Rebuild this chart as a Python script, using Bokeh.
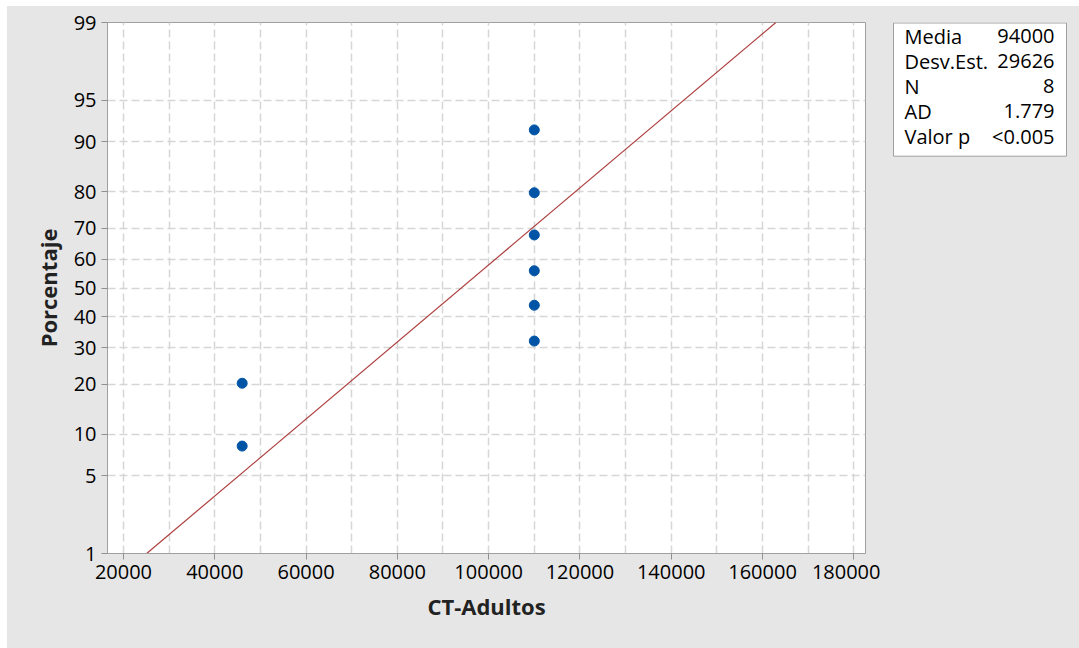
from statistics import NormalDist
from bokeh.plotting import figure
from bokeh.layouts import row
from bokeh.models import Range1d, FixedTicker, NumeralTickFormatter, ColumnDataSource
from bokeh.core.properties import value
from bokeh.embed import file_html
from bokeh.resources import INLINE

# ---- data ----
ct_adultos = [46000, 46000, 110000, 110000, 110000, 110000, 110000, 110000]
porcentaje = [8.3, 20.2, 32.1, 44.0, 56.0, 67.9, 79.8, 91.7]
media = 94000
desv_est = 29626
y_tick_pct = [1, 5, 10, 20, 30, 40, 50, 60, 70, 80, 90, 95, 99]
x_ticks = [20000, 40000, 60000, 80000, 100000, 120000, 140000, 160000, 180000]
x_grid = [20000, 30000, 40000, 50000, 60000, 70000, 80000, 90000, 100000,
          110000, 120000, 130000, 140000, 150000, 160000, 170000, 180000]
stat_names = ["Media", "Desv.Est.", "N", "AD", "Valor p"]
stat_values = ["94000", "29626", "8", "1.779", "<0.005"]
line_pct = [1, 99]

nd = NormalDist()
def z(p):
    return nd.inv_cdf(p / 100.0)

FONT = "Open Sans"
GRAY_BG = "#E6E6E6"
FRAME = "#A0A0A0"
GRID = "#D6D6D6"

# page layout: row starts at (7, 6); plot frame at page x 107..865, y 22..553
p = figure(width=873, height=642, output_backend="svg", toolbar_location=None,
           x_range=Range1d(16500, 182560), y_range=Range1d(z(1), z(99)),
           min_border_left=100, min_border_right=15, min_border_top=16, min_border_bottom=95)
p.border_fill_color = GRAY_BG
p.background_fill_color = "white"
p.outline_line_color = FRAME

# fitted line
lz = [z(v) for v in line_pct]
lx = [media + desv_est * v for v in lz]
p.line(lx, lz, line_color="#A52A2A", line_width=1.2, line_alpha=0.9)

src = ColumnDataSource(dict(x=ct_adultos, y=[z(v) for v in porcentaje]))
p.scatter("x", "y", source=src, size=10, fill_color="#0054A6", line_color="#0054A6")

yt = [z(v) for v in y_tick_pct]
p.yaxis.ticker = FixedTicker(ticks=yt)
p.yaxis.major_label_overrides = {t: str(v) for t, v in zip(yt, y_tick_pct)}
p.ygrid.ticker = FixedTicker(ticks=yt)
p.xaxis.ticker = FixedTicker(ticks=x_ticks)
p.xaxis.formatter = NumeralTickFormatter(format="0")
p.xgrid.ticker = FixedTicker(ticks=x_grid)

for g in (p.xgrid, p.ygrid):
    g.grid_line_color = GRID
    g.grid_line_dash = "8 4"
    g.grid_line_width = 1.5

p.xaxis.axis_label = "CT-Adultos"
p.yaxis.axis_label = "Porcentaje"
for ax in (p.xaxis, p.yaxis):
    ax.axis_line_color = FRAME
    ax.major_tick_line_color = "#909090"
    ax.major_tick_out = 6
    ax.major_tick_in = 0
    ax.minor_tick_line_color = None
    ax.major_label_text_font = FONT
    ax.major_label_text_font_size = "20px"
    ax.major_label_text_color = "black"
    ax.major_label_standoff = 5
    ax.axis_label_text_font = FONT
    ax.axis_label_text_font_size = "22px"
    ax.axis_label_text_font_style = "bold"
    ax.axis_label_text_color = "#222222"
p.xaxis.axis_label_standoff = 9
p.yaxis.axis_label_standoff = 8

# stats box panel (its frame is aligned with the main frame: page y 22..553)
p2 = figure(width=199, height=642, output_backend="svg", toolbar_location=None,
            x_range=Range1d(880, 1079), y_range=Range1d(553, 22),
            min_border=0, x_axis_location=None, y_axis_location=None)
p2.border_fill_color = GRAY_BG
p2.background_fill_color = GRAY_BG
p2.outline_line_color = None
p2.xgrid.visible = False
p2.ygrid.visible = False
p2.quad(left=893, right=1066, top=22.5, bottom=155.7, fill_color="white", line_color=FRAME, line_width=1)
rows_y = [35.5 + 25 * i for i in range(len(stat_names))]
p2.text(x=[904] * len(stat_names), y=rows_y, text=stat_names, text_align="left",
        text_baseline="middle", text_font=value(FONT), text_font_size="20px", text_color="black")
p2.text(x=[1054] * len(stat_values), y=rows_y, text=stat_values, text_align="right",
        text_baseline="middle", text_font=value(FONT), text_font_size="20px", text_color="black")

layout = row(p, p2, styles={"margin-left": "7px", "margin-top": "6px",
                            "background-color": GRAY_BG})
open("out.html", "w").write(file_html(layout, INLINE))
